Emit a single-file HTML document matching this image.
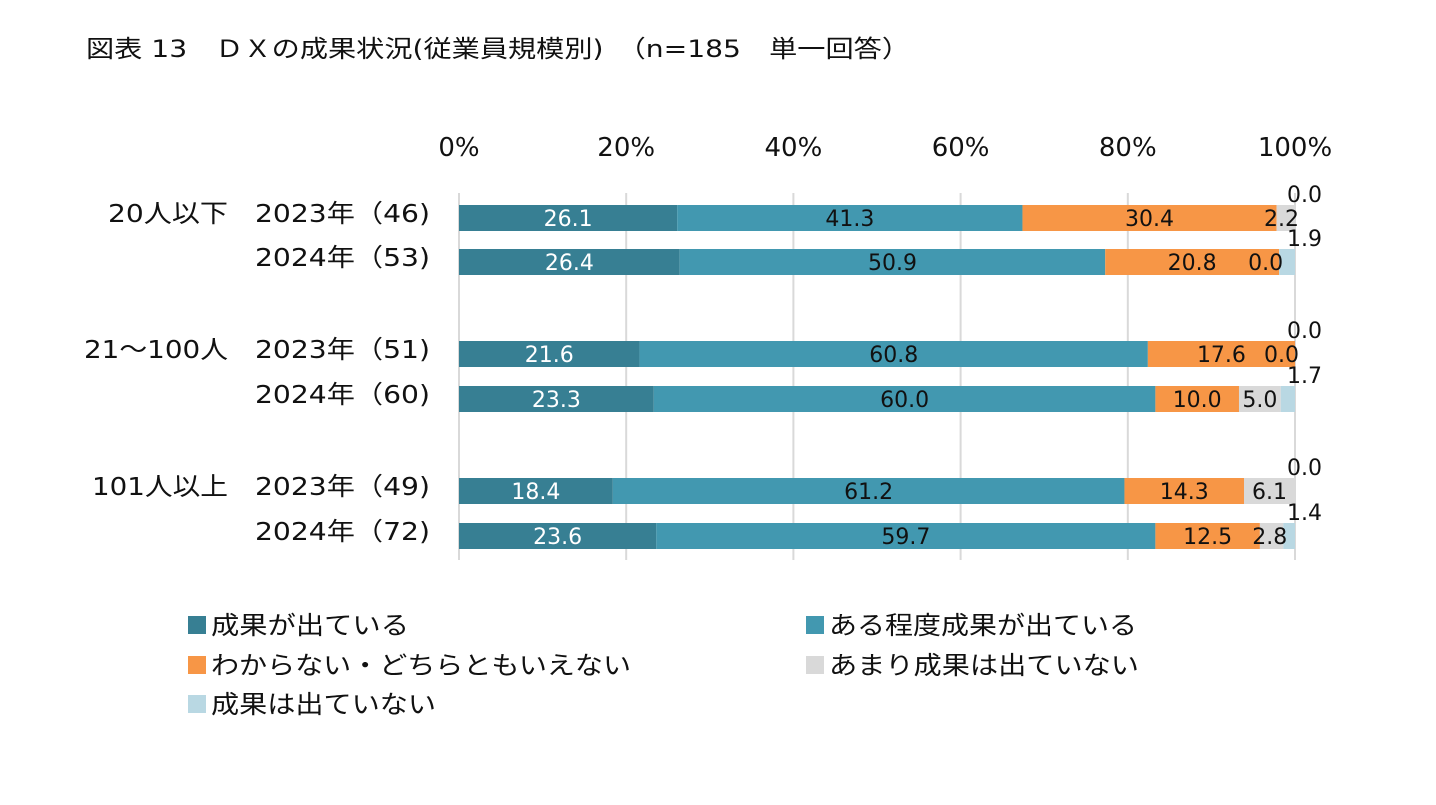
<!DOCTYPE html>
<html><head><meta charset="utf-8"><style>
body{margin:0;background:#fff;}
svg text{font-family:"DejaVu Sans","Noto Sans CJK JP",sans-serif;}
</style></head><body>
<svg id="c" width="1436" height="800">
<text x="86" y="57" font-size="24" fill="#111" textLength="824" lengthAdjust="spacingAndGlyphs">図表 13　ＤＸの成果状況(従業員規模別)　（n=185　単一回答）</text>
<g id="grid"></g><g id="bars"></g><g id="labels"></g><g id="legend"></g>
</svg>
<script>
const rowLabels=["2023年（46)","2024年（53)","2023年（51)","2024年（60)","2023年（49)","2024年（72)"];
const groupLabels=["20人以下","21～100人","101人以上"];
const seriesNames=["成果が出ている","ある程度成果が出ている","わからない・どちらともいえない","あまり成果は出ていない","成果は出ていない"];
const s1=[26.1,26.4,21.6,23.3,18.4,23.6];
const s2=[41.3,50.9,60.8,60.0,61.2,59.7];
const s3=[30.4,20.8,17.6,10.0,14.3,12.5];
const s4=[2.2,0.0,0.0,5.0,6.1,2.8];
const s5=[0.0,1.9,0.0,1.7,0.0,1.4];
const ticks=[0,20,40,60,80,100];
const colors=["#377f93","#4298b0","#f79646","#d9d9d9","#b9d8e3"];
const NS="http://www.w3.org/2000/svg";
const x0=459,x1=1295;
const xs=v=>x0+(x1-x0)*v/100;
const rowY=[218,262,354,399,491,536];
const bh=26;
const groupW=[120,144,136];
const legW=[198,308,420,310,225];
function mk(t,a,p,txt){const e=document.createElementNS(NS,t);for(const k in a)e.setAttribute(k,a[k]);if(txt!==undefined)e.textContent=txt;p.appendChild(e);return e;}
const G=document.getElementById('grid'),B=document.getElementById('bars'),L=document.getElementById('labels'),LG=document.getElementById('legend');
ticks.forEach(t=>{
 const l=mk('line',{x1:xs(t),x2:xs(t),y1:193,y2:560,stroke:'#d9d9d9','stroke-width':2},G);
 
 
 const tx=mk('text',{x:xs(t),y:156,'font-size':26,'text-anchor':'middle',fill:'#111'},G,t+'%');
 
 
});
const series=[s1,s2,s3,s4,s5];
rowLabels.forEach((r,i)=>{
 const y=rowY[i];
 const rl=mk('text',{x:255,y:y+4,'font-size':25,fill:'#111',textLength:175,lengthAdjust:'spacingAndGlyphs'},L,r);
 
 
 let c=0;
 series.forEach((s,k)=>{
  const v=s[i];const a=xs(c),b=xs(c+v);
  const rc=mk('rect',{x:a,y:y-bh/2,width:Math.max(0,b-a),height:bh,fill:colors[k]},B);
  
  
  let lx=(a+b)/2,ly=y+8,anchor='middle';
  if(k==3&&v<3){lx=b+4;anchor='end';}
  if(k==4){lx=Math.min(b,x1)-8;ly=y-16;anchor='start';}
  const t=mk('text',{x:lx,y:ly,'font-size':22,'text-anchor':anchor,fill:k==0?'#fff':'#111'},L,v.toFixed(1));
  
  
  c+=v;
 });
});
groupLabels.forEach((g,j)=>{
 const t=mk('text',{x:228-groupW[j],y:rowY[j*2]+4,'font-size':25,fill:'#111',textLength:groupW[j],lengthAdjust:'spacingAndGlyphs'},L,g);
 
 
});
const legPos=[[188,625],[806,625],[188,665],[806,665],[188,704]];
seriesNames.forEach((n,k)=>{
 const [x,y]=legPos[k];
 const r=mk('rect',{x:x,y:y-9,width:18,height:18,fill:colors[k]},LG);
 
 
 const t=mk('text',{x:x+23,y:y+9,'font-size':25,fill:'#111',textLength:legW[k],lengthAdjust:'spacingAndGlyphs'},LG,n);
 
 
});
</script>
</body></html>
